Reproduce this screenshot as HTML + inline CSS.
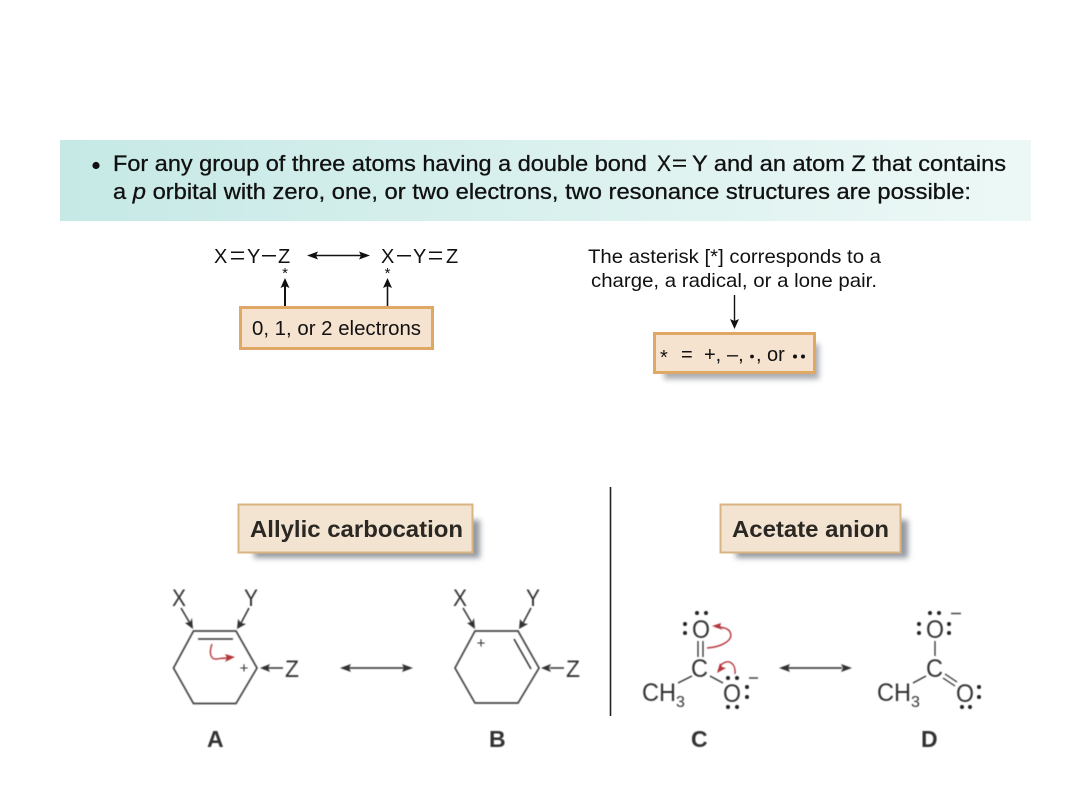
<!DOCTYPE html>
<html><head><meta charset="utf-8"><style>
html,body{margin:0;padding:0;background:#fff;width:1080px;height:810px;overflow:hidden}
svg{display:block}
text{font-family:"Liberation Sans",Arial,sans-serif;fill:#111}
.h{font-size:22px;stroke:#111;stroke-width:.3px}
.m{font-size:20px}
.g{fill:#333;font-size:24px}
.s{fill:#333;font-size:25px}
.l{font-size:23px;font-weight:bold;fill:#333}
</style></head><body>
<svg width="1080" height="810" viewBox="0 0 1080 810" xmlns="http://www.w3.org/2000/svg">
<defs>
<linearGradient id="bg" x1="0" x2="1" y1="0" y2="0"><stop offset="0" stop-color="#c6e9e6"/><stop offset="1" stop-color="#edf8f6"/></linearGradient>
<filter id="sh" x="-20%" y="-50%" width="140%" height="200%"><feGaussianBlur stdDeviation="3"/></filter>
<filter id="b" x="-10%" y="-10%" width="120%" height="120%"><feGaussianBlur stdDeviation=".45"/></filter>
</defs>
<rect x="60" y="140" width="971" height="81" fill="url(#bg)"/>
<circle cx="96" cy="165.5" r="3.6" fill="#111"/>
<text class="h" x="113" y="171" textLength="534" lengthAdjust="spacingAndGlyphs">For any group of three atoms having a double bond</text>
<text class="h" x="657" y="171" textLength="14" lengthAdjust="spacingAndGlyphs">X</text><rect x="673" y="159.500" width="13" height="1.800" fill="#111"/><rect x="673" y="165" width="13" height="1.800" fill="#111"/>
<text class="h" x="692" y="171" textLength="314" lengthAdjust="spacingAndGlyphs">Y and an atom Z that contains</text>
<text class="h" x="113" y="199" textLength="858" lengthAdjust="spacingAndGlyphs">a <tspan font-style="italic">p</tspan> orbital with zero, one, or two electrons, two resonance structures are possible:</text>

<g class="m">
<text class="m" x="214" y="263">X</text><rect x="231" y="251.500" width="13" height="1.500" fill="#111"/><rect x="231" y="258" width="13" height="1.500" fill="#111"/>
<text class="m" x="247" y="263">Y</text><rect x="262" y="255" width="14" height="1.500" fill="#111"/><text class="m" x="278" y="263">Z</text>
<text class="m" x="381" y="263">X</text><rect x="397" y="255" width="14" height="1.500" fill="#111"/>
<text class="m" x="413" y="263">Y</text><rect x="429" y="251.500" width="13" height="1.500" fill="#111"/><rect x="429" y="258" width="13" height="1.500" fill="#111"/>
<text class="m" x="446" y="263">Z</text>
</g>
<text x="285" y="278" text-anchor="middle" font-size="15">*</text>
<text x="387.500" y="278" text-anchor="middle" font-size="15">*</text>
<path d="M316 255.500H361" stroke="#111" stroke-width="1.500"/><path d="M307 255.500l11-4-2 4 2 4zM370 255.500l-11-4 2 4-2 4z" fill="#111"/>
<path d="M285 306V284" stroke="#111" stroke-width="2"/><path d="M285 278l-4.500 10 4.500-2 4.500 2z" fill="#111"/>
<path d="M387.500 306V284" stroke="#111" stroke-width="1.600"/><path d="M387.500 278l-4.500 10 4.500-2 4.500 2z" fill="#111"/>
<rect x="240.500" y="307.500" width="192" height="41" fill="#f6e3cf" stroke="#dfa965" stroke-width="3"/>
<text x="252" y="335" font-size="20" textLength="169" lengthAdjust="spacingAndGlyphs">0, 1, or 2 electrons</text>

<text x="588" y="263" font-size="19.500" textLength="293" lengthAdjust="spacingAndGlyphs">The asterisk [*] corresponds to a</text>
<text x="591" y="287" font-size="19.500" textLength="286" lengthAdjust="spacingAndGlyphs">charge, a radical, or a lone pair.</text>
<path d="M734.500 295V322" stroke="#111" stroke-width="1.400"/><path d="M734.500 329l-4.500-10 4.500 2 4.500-2z" fill="#111"/>
<rect x="664" y="344" width="155" height="35" fill="#8a8f95" opacity=".75" filter="url(#sh)"/>
<rect x="654.500" y="333.500" width="160" height="39" fill="#f6e3cf" stroke="#dfa965" stroke-width="3"/>
<text x="660" y="364" font-size="20">*</text>
<text x="681" y="361" font-size="20">=</text>
<text x="704" y="361" font-size="20">+,</text>
<text x="727" y="361" font-size="20">–,</text>
<circle cx="752" cy="356.500" r="1.900" fill="#111"/>
<text x="756" y="361" font-size="20">,</text>
<text x="767" y="361" font-size="20">or</text>
<circle cx="795" cy="356.500" r="2" fill="#111"/><circle cx="803" cy="356.500" r="2" fill="#111"/>

<rect x="254" y="520" width="226" height="38" fill="#6f7780" opacity=".75" filter="url(#sh)"/>
<rect x="238.500" y="504.500" width="234" height="48" fill="#f3e4d2" stroke="#d9b483" stroke-width="2"/>
<text x="250" y="537" font-size="23.500" font-weight="bold" style="fill:#2b2723" textLength="213" lengthAdjust="spacingAndGlyphs">Allylic carbocation</text>
<rect x="736" y="520" width="172" height="38" fill="#6f7780" opacity=".75" filter="url(#sh)"/>
<rect x="720.500" y="504.500" width="180" height="48" fill="#f3e4d2" stroke="#d9b483" stroke-width="2"/>
<text x="732" y="537" font-size="23.500" font-weight="bold" style="fill:#2b2723" textLength="157" lengthAdjust="spacingAndGlyphs">Acetate anion</text>
<path d="M610.500 487V716" stroke="#222" stroke-width="1.600"/>

<g filter="url(#b)">
<path d="M193.500 631H236L257 668L236 703.500H193.500L173.500 668Z" fill="none" stroke="#444" stroke-width="1.700"/>
<path d="M198 639H233" stroke="#333" stroke-width="1.500"/>
<path d="M212 644C209 652 210 660 217 659C222 658 225 658 230 658" fill="none" stroke="#b5343a" stroke-width="1.400"/><path d="M235 657l-10-3 2 4-2 4z" fill="#b5343a"/>
<text x="244" y="673" text-anchor="middle" font-size="15" style="fill:#333">+</text>
<text class="g" x="172" y="606" textLength="14" lengthAdjust="spacingAndGlyphs">X</text><text class="g" x="244" y="606" textLength="14" lengthAdjust="spacingAndGlyphs">Y</text><text class="g" x="285" y="677" textLength="14" lengthAdjust="spacingAndGlyphs">Z</text>
<path d="M181 608L191 625M249 608L240 625M283 668H268" stroke="#333" stroke-width="1.500"/>
<path d="M193 629l-8-6 5-1 2-4zM237 629l1-10 3 4 5 1zM260 668l10-4-2 4 2 4z" fill="#333"/>
<path d="M348 668H405" stroke="#444" stroke-width="1.700"/><path d="M340 668l11-4-2 4 2 4zM413 668l-11-4 2 4-2 4z" fill="#333"/>
<text class="l" x="207" y="747">A</text>

<path d="M475 631H518L539 668L518 703H475L455 668Z" fill="none" stroke="#444" stroke-width="1.700"/>
<path d="M514 639L531 669" stroke="#333" stroke-width="1.500"/>
<text x="481" y="648" text-anchor="middle" font-size="15" style="fill:#333">+</text>
<text class="g" x="453" y="606" textLength="14" lengthAdjust="spacingAndGlyphs">X</text><text class="g" x="526" y="606" textLength="14" lengthAdjust="spacingAndGlyphs">Y</text><text class="g" x="566" y="677" textLength="14" lengthAdjust="spacingAndGlyphs">Z</text>
<path d="M463 608L473 625M531 608L522 625M564 668H550" stroke="#333" stroke-width="1.500"/>
<path d="M475 629l-8-6 5-1 2-4zM519 629l1-10 3 4 5 1zM541 668l10-4-2 4 2 4z" fill="#333"/>
<text class="l" x="489" y="747">B</text>

<!-- C -->
<text class="s" x="692" y="638" textLength="18" lengthAdjust="spacingAndGlyphs">O</text>
<g fill="#222"><circle cx="697" cy="613" r="2"/><circle cx="706" cy="613" r="2"/><circle cx="685" cy="624" r="2"/><circle cx="685" cy="633" r="2"/></g>
<path d="M698 641V657M703 641V657M678 683L692 676M710 676L723 683" stroke="#333" stroke-width="1.300"/>
<text class="s" x="691" y="677" textLength="17" lengthAdjust="spacingAndGlyphs">C</text>
<text class="s" x="642" y="701" textLength="34" lengthAdjust="spacingAndGlyphs">CH</text><text x="676" y="707" font-size="16" style="fill:#333">3</text>
<text class="s" x="723" y="702" textLength="18" lengthAdjust="spacingAndGlyphs">O</text>
<g fill="#222"><circle cx="728" cy="678" r="2"/><circle cx="737" cy="678" r="2"/><circle cx="728" cy="707" r="2"/><circle cx="737" cy="707" r="2"/><circle cx="747" cy="687" r="2"/><circle cx="747" cy="697" r="2"/></g>
<path d="M749 678H758" stroke="#444" stroke-width="1.500"/>
<path d="M707 648C722 647 734 640 730 632C728 628 721 627 716 627" fill="none" stroke="#b5343a" stroke-width="1.400"/><path d="M712 626l9-3-1 4 3 3z" fill="#b5343a"/>
<path d="M735 674C736 662 727 658 720 666" fill="none" stroke="#b5343a" stroke-width="1.400"/><path d="M717 673l3-10 2 4 4 1z" fill="#b5343a"/>
<path d="M788 668H842" stroke="#444" stroke-width="1.700"/><path d="M779 668l11-4-2 4 2 4zM852 668l-11-4 2 4-2 4z" fill="#333"/>
<text class="l" x="691" y="747">C</text>

<!-- D -->
<text class="s" x="926" y="638" textLength="18" lengthAdjust="spacingAndGlyphs">O</text>
<g fill="#222"><circle cx="930" cy="613" r="2"/><circle cx="939" cy="613" r="2"/><circle cx="919" cy="624" r="2"/><circle cx="919" cy="633" r="2"/><circle cx="949" cy="624" r="2"/><circle cx="949" cy="633" r="2"/></g>
<path d="M951 613.500H961" stroke="#444" stroke-width="1.500"/>
<path d="M935 641V656M913 683L926 676M943 678L955 686M945 674L957 682" stroke="#333" stroke-width="1.300"/>
<text class="s" x="926" y="677" textLength="17" lengthAdjust="spacingAndGlyphs">C</text>
<text class="s" x="877" y="701" textLength="34" lengthAdjust="spacingAndGlyphs">CH</text><text x="911" y="707" font-size="16" style="fill:#333">3</text>
<text class="s" x="956" y="702" textLength="18" lengthAdjust="spacingAndGlyphs">O</text>
<g fill="#222"><circle cx="962" cy="707" r="2"/><circle cx="970" cy="707" r="2"/><circle cx="979" cy="687" r="2"/><circle cx="979" cy="697" r="2"/></g>
<text class="l" x="921" y="747">D</text>
</g>
</svg>
</body></html>
